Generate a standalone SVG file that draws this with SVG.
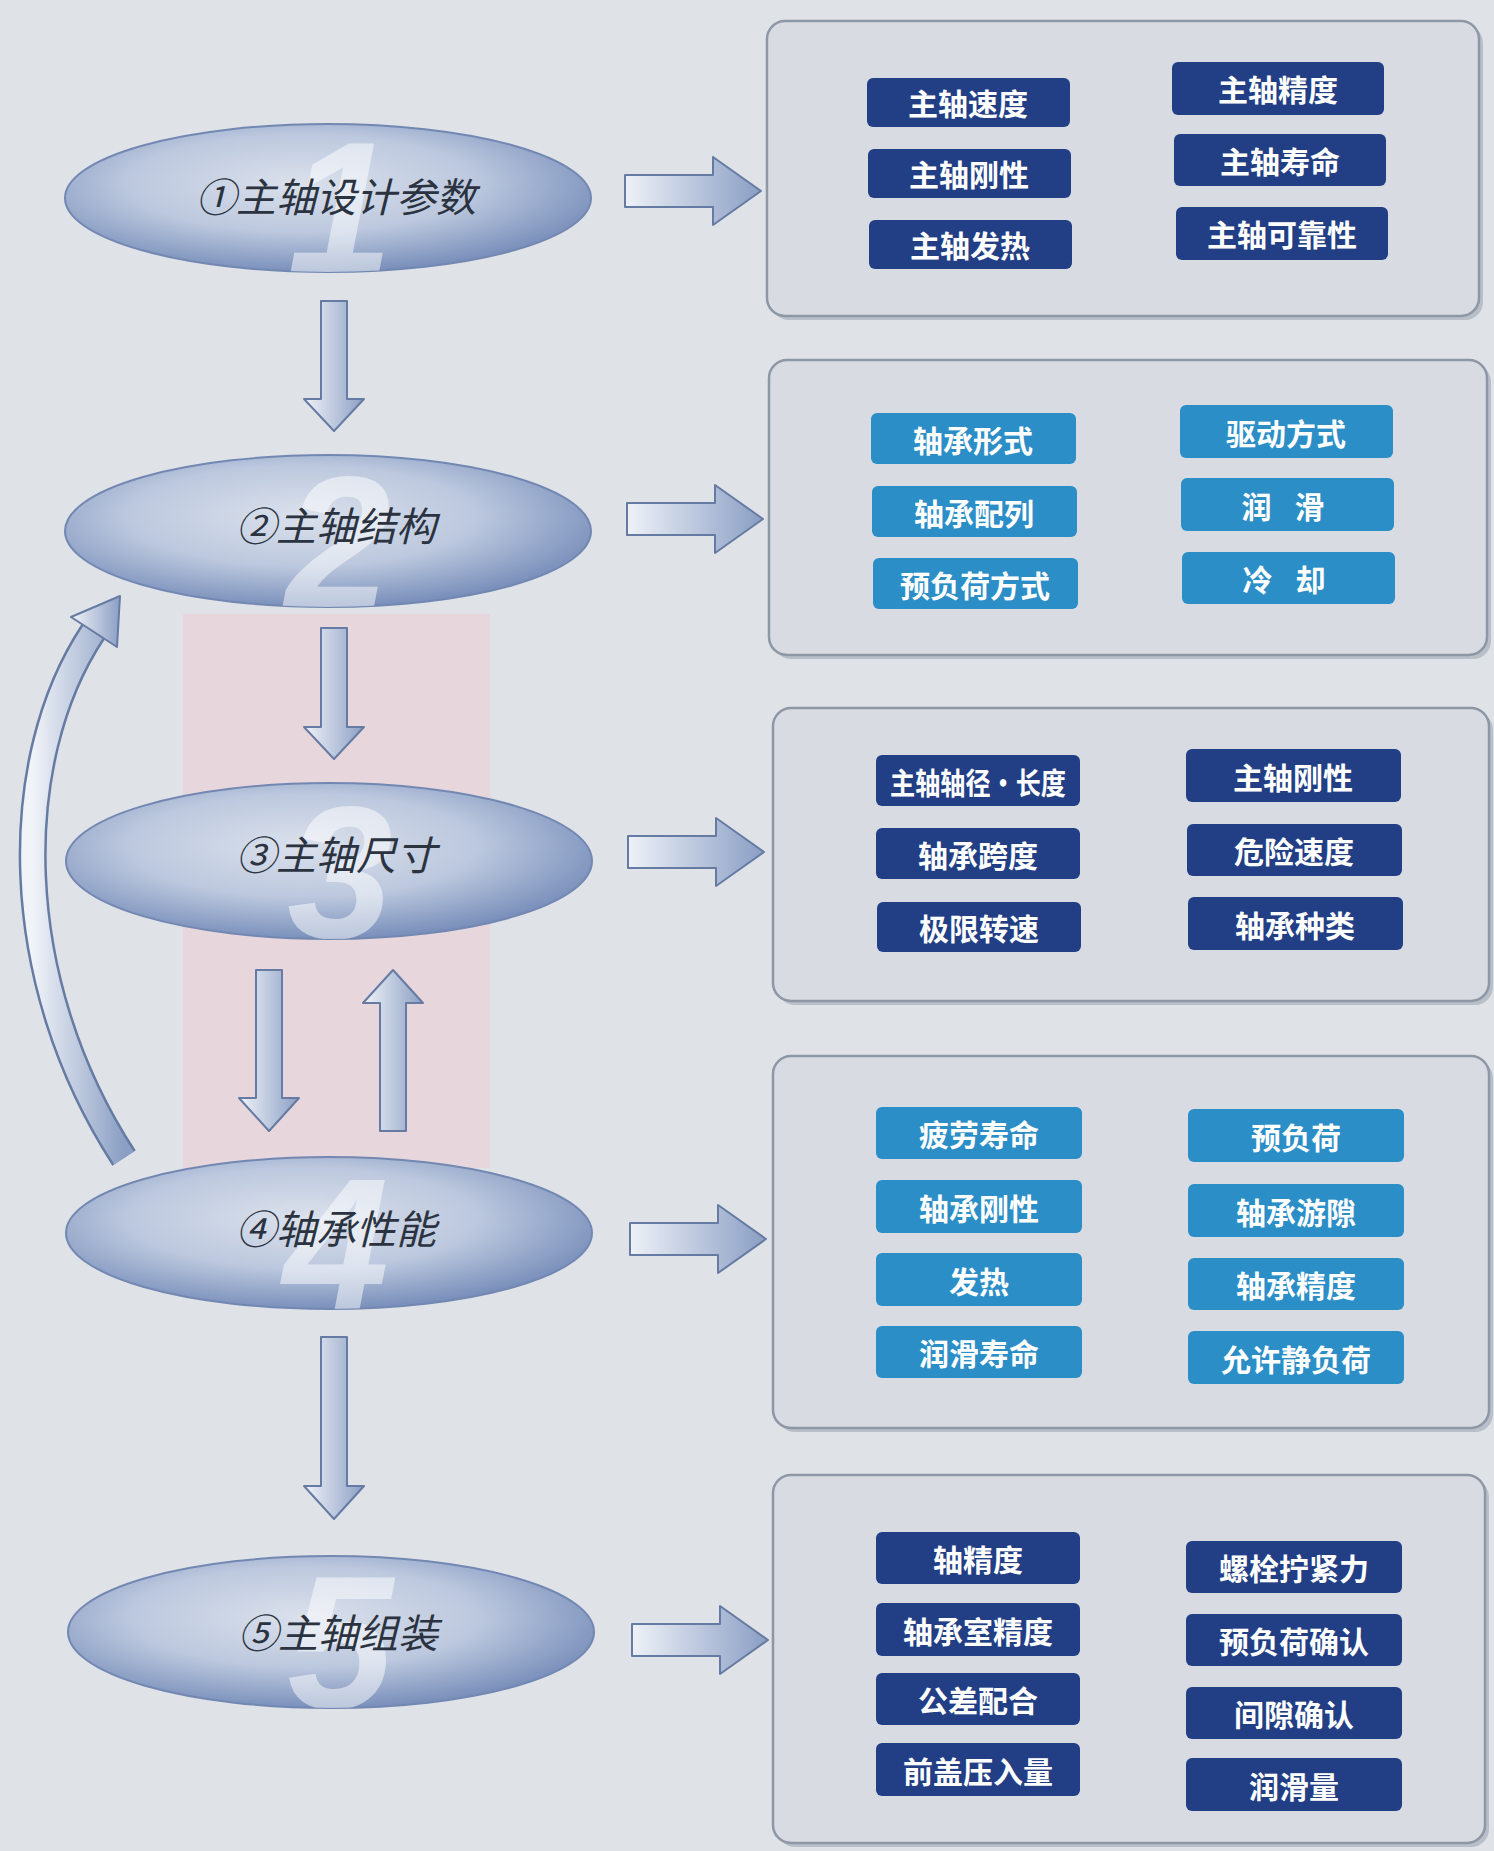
<svg xmlns="http://www.w3.org/2000/svg" width="1494" height="1851" viewBox="0 0 1494 1851">
<style>
.ell{fill:url(#eg);stroke:#7288b3;stroke-width:2}
.num{font-family:"Liberation Sans",sans-serif;font-weight:bold;font-style:italic;font-size:190px;fill:#ffffff;fill-opacity:0.5;text-anchor:middle}
.lbl{font-family:"Liberation Sans","Noto Sans CJK SC",sans-serif;font-style:italic;font-size:40px;fill:#2b3340;text-anchor:middle;dominant-baseline:central}
.panel{fill:#d8dce2;stroke:#8e97a5;stroke-width:2.5}
.shadow{fill:#b9bfc8}
.nv{fill:#223f86}
.lb{fill:#2b8ec7}
.bt{font-family:"Noto Sans CJK SC",sans-serif;font-weight:bold;font-size:30px;fill:#ffffff;text-anchor:middle;dominant-baseline:central}
.va{fill:url(#vg);stroke:#667ba3;stroke-width:2;stroke-linejoin:round}
.ha{fill:url(#hg);stroke:#667ba3;stroke-width:2;stroke-linejoin:round}
</style>
<defs>
<radialGradient id="eg" cx="45%" cy="40%" r="60%">
<stop offset="0" stop-color="#dbe1ec"/>
<stop offset="0.55" stop-color="#bcc8de"/>
<stop offset="1" stop-color="#7a90bb"/>
</radialGradient>
<linearGradient id="vg" x1="0" y1="0" x2="1" y2="0">
<stop offset="0" stop-color="#f0f3f8"/>
<stop offset="1" stop-color="#8b9fc4"/>
</linearGradient>
<linearGradient id="hg" x1="0" y1="0" x2="1" y2="0">
<stop offset="0" stop-color="#eef1f7"/>
<stop offset="1" stop-color="#8a9ec4"/>
</linearGradient>
<clipPath id="c1"><ellipse cx="328" cy="198" rx="263" ry="74"/></clipPath>
<clipPath id="c2"><ellipse cx="328" cy="531" rx="263" ry="76"/></clipPath>
<clipPath id="c3"><ellipse cx="329" cy="861" rx="263" ry="78"/></clipPath>
<clipPath id="c4"><ellipse cx="329" cy="1233" rx="263" ry="76"/></clipPath>
<clipPath id="c5"><ellipse cx="331" cy="1632" rx="263" ry="76"/></clipPath>
</defs>
<rect x="0" y="0" width="1494" height="1851" fill="#dfe2e6"/>
<rect x="183" y="614" width="307" height="554" fill="#ead2d5" fill-opacity="0.7"/>

<g id="node1">
<ellipse class="ell" cx="328" cy="198" rx="263" ry="74"/>
<text class="num" x="340" y="274" clip-path="url(#c1)">1</text>
<text class="lbl" x="336" y="198">①主轴设计参数</text>
</g>
<g id="node2">
<ellipse class="ell" cx="328" cy="531" rx="263" ry="76"/>
<text class="num" x="338" y="608" clip-path="url(#c2)">2</text>
<text class="lbl" x="336" y="527">②主轴结构</text>
</g>
<g id="node3">
<ellipse class="ell" cx="329" cy="861" rx="263" ry="78"/>
<text class="num" x="340" y="938" clip-path="url(#c3)">3</text>
<text class="lbl" x="336" y="856">③主轴尺寸</text>
</g>
<g id="node4">
<ellipse class="ell" cx="329" cy="1233" rx="263" ry="76"/>
<text class="num" x="336" y="1310" clip-path="url(#c4)">4</text>
<text class="lbl" x="336" y="1230">④轴承性能</text>
</g>
<g id="node5">
<ellipse class="ell" cx="331" cy="1632" rx="263" ry="76"/>
<text class="num" x="340" y="1708" clip-path="url(#c5)">5</text>
<text class="lbl" x="338" y="1634">⑤主轴组装</text>
</g>

<g id="connectors">
<path class="va" d="M321 301 L347 301 L347 399 L364 399 L334 431 L304 399 L321 399 Z"/>
<path class="va" d="M321 628 L347 628 L347 727 L364 727 L334 759 L304 727 L321 727 Z"/>
<path class="va" d="M256 970 L282 970 L282 1098 L299 1098 L269 1131 L239 1098 L256 1098 Z"/>
<path class="va" d="M380 1131 L406 1131 L406 1003 L423 1003 L393 970 L363 1003 L380 1003 Z"/>
<path class="va" d="M321 1337 L347 1337 L347 1486 L364 1486 L334 1519 L304 1486 L321 1486 Z"/>
<path class="ha" d="M625 175 L713 175 L713 157 L761 191 L713 225 L713 207 L625 207 Z"/>
<path class="ha" d="M627 503 L715 503 L715 485 L763 519 L715 553 L715 535 L627 535 Z"/>
<path class="ha" d="M628 836 L716 836 L716 818 L764 852 L716 886 L716 868 L628 868 Z"/>
<path class="ha" d="M630 1223 L718 1223 L718 1205 L766 1239 L718 1273 L718 1255 L630 1255 Z"/>
<path class="ha" d="M632 1624 L720 1624 L720 1606 L768 1640 L720 1674 L720 1656 L632 1656 Z"/>
<path d="M124 1158 C 8 980, 8 760, 93 632" fill="none" stroke="#667ba3" stroke-width="28"/>
<path d="M124 1158 C 8 980, 8 760, 93 632" fill="none" stroke="url(#vg)" stroke-width="23"/>
<path class="va" d="M117 647 L120 596 L71 617 Z"/>
</g>

<g id="panel1">
<rect class="shadow" x="771" y="25" width="712" height="295" rx="18"/>
<rect class="panel" x="767" y="21" width="712" height="295" rx="18"/>
<rect class="nv" x="867" y="78" width="203" height="49" rx="6"/><text class="bt" x="968" y="102">主轴速度</text>
<rect class="nv" x="868" y="149" width="203" height="49" rx="6"/><text class="bt" x="969" y="173">主轴刚性</text>
<rect class="nv" x="869" y="220" width="203" height="49" rx="6"/><text class="bt" x="970" y="244">主轴发热</text>
<rect class="nv" x="1172" y="62" width="212" height="53" rx="6"/><text class="bt" x="1278" y="88">主轴精度</text>
<rect class="nv" x="1174" y="134" width="212" height="52" rx="6"/><text class="bt" x="1280" y="160">主轴寿命</text>
<rect class="nv" x="1176" y="207" width="212" height="53" rx="6"/><text class="bt" x="1282" y="233">主轴可靠性</text>
</g>

<g id="panel2">
<rect class="shadow" x="773" y="364" width="718" height="295" rx="18"/>
<rect class="panel" x="769" y="360" width="718" height="295" rx="18"/>
<rect class="lb" x="871" y="413" width="205" height="51" rx="6"/><text class="bt" x="973" y="439">轴承形式</text>
<rect class="lb" x="872" y="486" width="205" height="51" rx="6"/><text class="bt" x="974" y="512">轴承配列</text>
<rect class="lb" x="873" y="558" width="205" height="51" rx="6"/><text class="bt" x="975" y="584">预负荷方式</text>
<rect class="lb" x="1180" y="405" width="213" height="53" rx="6"/><text class="bt" x="1286" y="432">驱动方式</text>
<rect class="lb" x="1181" y="478" width="213" height="53" rx="6"/><text class="bt" x="1287" y="505" letter-spacing="8">润 滑</text>
<rect class="lb" x="1182" y="552" width="213" height="52" rx="6"/><text class="bt" x="1288" y="578" letter-spacing="8">冷 却</text>
</g>

<g id="panel3">
<rect class="shadow" x="777" y="712" width="716" height="293" rx="18"/>
<rect class="panel" x="773" y="708" width="716" height="293" rx="18"/>
<rect class="nv" x="876" y="755" width="204" height="51" rx="6"/><text class="bt" x="978" y="781" font-size="27" textLength="176" lengthAdjust="spacingAndGlyphs">主轴轴径·长度</text>
<rect class="nv" x="876" y="828" width="204" height="51" rx="6"/><text class="bt" x="978" y="854">轴承跨度</text>
<rect class="nv" x="877" y="902" width="204" height="50" rx="6"/><text class="bt" x="979" y="927">极限转速</text>
<rect class="nv" x="1186" y="749" width="215" height="53" rx="6"/><text class="bt" x="1293" y="776">主轴刚性</text>
<rect class="nv" x="1187" y="824" width="215" height="52" rx="6"/><text class="bt" x="1294" y="850">危险速度</text>
<rect class="nv" x="1188" y="897" width="215" height="53" rx="6"/><text class="bt" x="1295" y="924">轴承种类</text>
</g>

<g id="panel4">
<rect class="shadow" x="777" y="1060" width="716" height="372" rx="18"/>
<rect class="panel" x="773" y="1056" width="716" height="372" rx="18"/>
<rect class="lb" x="876" y="1107" width="206" height="52" rx="6"/><text class="bt" x="979" y="1133">疲劳寿命</text>
<rect class="lb" x="876" y="1180" width="206" height="53" rx="6"/><text class="bt" x="979" y="1207">轴承刚性</text>
<rect class="lb" x="876" y="1253" width="206" height="53" rx="6"/><text class="bt" x="979" y="1280">发热</text>
<rect class="lb" x="876" y="1326" width="206" height="52" rx="6"/><text class="bt" x="979" y="1352">润滑寿命</text>
<rect class="lb" x="1188" y="1109" width="216" height="53" rx="6"/><text class="bt" x="1296" y="1136">预负荷</text>
<rect class="lb" x="1188" y="1184" width="216" height="53" rx="6"/><text class="bt" x="1296" y="1211">轴承游隙</text>
<rect class="lb" x="1188" y="1258" width="216" height="52" rx="6"/><text class="bt" x="1296" y="1284">轴承精度</text>
<rect class="lb" x="1188" y="1331" width="216" height="53" rx="6"/><text class="bt" x="1296" y="1358">允许静负荷</text>
</g>

<g id="panel5">
<rect class="shadow" x="777" y="1479" width="712" height="368" rx="18"/>
<rect class="panel" x="773" y="1475" width="712" height="368" rx="18"/>
<rect class="nv" x="876" y="1532" width="204" height="52" rx="6"/><text class="bt" x="978" y="1558">轴精度</text>
<rect class="nv" x="876" y="1603" width="204" height="53" rx="6"/><text class="bt" x="978" y="1630">轴承室精度</text>
<rect class="nv" x="876" y="1673" width="204" height="52" rx="6"/><text class="bt" x="978" y="1699">公差配合</text>
<rect class="nv" x="876" y="1743" width="204" height="53" rx="6"/><text class="bt" x="978" y="1770">前盖压入量</text>
<rect class="nv" x="1186" y="1541" width="216" height="52" rx="6"/><text class="bt" x="1294" y="1567">螺栓拧紧力</text>
<rect class="nv" x="1186" y="1614" width="216" height="52" rx="6"/><text class="bt" x="1294" y="1640">预负荷确认</text>
<rect class="nv" x="1186" y="1687" width="216" height="52" rx="6"/><text class="bt" x="1294" y="1713">间隙确认</text>
<rect class="nv" x="1186" y="1758" width="216" height="53" rx="6"/><text class="bt" x="1294" y="1785">润滑量</text>
</g>
</svg>
